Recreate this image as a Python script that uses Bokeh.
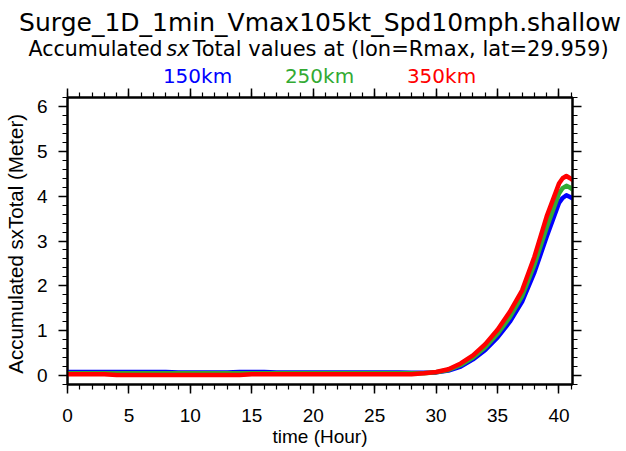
from bokeh.plotting import figure
from bokeh.layouts import column
from bokeh.models import (Range1d, LinearAxis, SingleIntervalTicker, ColumnDataSource,
                          CustomJSTickFormatter)
from bokeh.core.properties import value
from bokeh.embed import file_html
from bokeh.resources import INLINE

# ---------------- data ----------------
hours = [0, 1, 2, 3, 4, 5, 6, 7, 8, 9, 10, 11, 12, 13, 14, 15, 16, 17, 18, 19,
         20, 21, 22, 23, 24, 25, 26, 27, 28, 29, 30, 31, 32, 33, 34, 35, 36, 37,
         38, 39, 40, 40.3, 40.6, 40.9, 41.1]

s150km = [0.08, 0.08, 0.08, 0.08, 0.08, 0.08, 0.08, 0.08, 0.08, 0.065, 0.065,
          0.065, 0.065, 0.065, 0.08, 0.08, 0.08, 0.065, 0.065, 0.065, 0.065,
          0.065, 0.065, 0.065, 0.065, 0.065, 0.065, 0.065, 0.06, 0.06, 0.07,
          0.11, 0.20, 0.36, 0.57, 0.85, 1.20, 1.65, 2.30, 3.10, 3.85, 3.96,
          4.02, 3.98, 3.95]

s250km = [0.05, 0.05, 0.05, 0.05, 0.05, 0.05, 0.05, 0.05, 0.05, 0.05, 0.05,
          0.05, 0.05, 0.05, 0.05, 0.05, 0.05, 0.05, 0.05, 0.05, 0.05, 0.05,
          0.05, 0.05, 0.05, 0.05, 0.05, 0.05, 0.05, 0.05, 0.075, 0.125, 0.235,
          0.40, 0.63, 0.93, 1.30, 1.77, 2.47, 3.30, 4.06, 4.18, 4.23, 4.19, 4.15]

s350km = [0.03, 0.03, 0.03, 0.03, 0.01, 0.01, 0.01, 0.01, 0.01, 0.01, 0.01, 0.01,
          0.01, 0.01, 0.01, 0.03, 0.03, 0.03, 0.03, 0.03, 0.03, 0.03, 0.03, 0.03,
          0.03, 0.03, 0.03, 0.03, 0.03, 0.05, 0.08, 0.14, 0.27, 0.45, 0.70, 1.02,
          1.42, 1.90, 2.65, 3.55, 4.28, 4.40, 4.45, 4.40, 4.36]

series_names = ["150km", "250km", "350km"]
series_colors = ["#0000ff", "#33aa33", "#ff0000"]

title_text = "Surge_1D_1min_Vmax105kt_Spd10mph.shallow"
sub_a = "Accumulated"
sub_b = "sx"
sub_c = "Total values at (lon=Rmax, lat=29.959)"
xlabel = "time (Hour)"
ylabel = "Accumulated sxTotal  (Meter)"

W = 626
HEAD_H = 86
MAIN_H = 451 - HEAD_H

# ---------------- header (titles + colored legend words) ----------------
head = figure(width=W, height=HEAD_H, output_backend="svg", toolbar_location=None,
              x_range=Range1d(0, W), y_range=Range1d(HEAD_H, 0),
              x_axis_location=None, y_axis_location=None, min_border=0,
              frame_align=False)
head.grid.visible = False
head.outline_line_color = None
head.background_fill_color = "white"
head.border_fill_color = "white"

def htext(txt, x, y, size, color="black", align="left", style="normal"):
    head.text(x=[x], y=[y], text=[txt], text_font=value("DejaVu Sans"),
              text_font_size=value(size), text_color=color, text_align=align,
              text_baseline="alphabetic", text_font_style=style)

htext(title_text, 319.5, 22, "25px", align="center")
htext(sub_a, 28, 48, "20.5px")
htext(sub_b, 166, 48, "20.5px", style="italic")
htext(sub_c, 192, 48, "21px")
for name, col, cx in zip(series_names, series_colors, [197, 319, 441]):
    htext(name, cx, 75, "20px", color=col, align="center")

# ---------------- main plot ----------------
p = figure(width=W, height=MAIN_H, output_backend="svg", toolbar_location=None,
           x_range=Range1d(0, 41.1), y_range=Range1d(-0.2, 6.2),
           x_axis_location=None, y_axis_location=None,
           min_border_left=67, min_border_right=W - 572,
           min_border_top=97 - HEAD_H, min_border_bottom=451 - 384,
           frame_align=False)
p.grid.visible = False
p.outline_line_color = "black"
p.outline_line_width = 2
p.background_fill_color = "white"
p.border_fill_color = "white"

def style_axis(ax, show_labels):
    ax.axis_line_color = "black"
    ax.axis_line_width = 2
    ax.major_tick_out = 9
    ax.major_tick_in = 0
    ax.minor_tick_out = 5
    ax.minor_tick_in = 0
    ax.major_tick_line_width = 1.5
    ax.minor_tick_line_width = 1.2
    ax.major_tick_line_color = "black"
    ax.minor_tick_line_color = "black"
    ax.major_label_text_font = "Liberation Sans"
    ax.major_label_text_color = "black"
    ax.axis_label_text_font = "Liberation Sans"
    ax.axis_label_text_font_style = "normal"
    ax.axis_label_text_color = "black"
    if show_labels:
        ax.major_label_text_font_size = "19px"
    else:
        ax.formatter = CustomJSTickFormatter(code="return ''")
        ax.major_label_text_font_size = "0px"
        ax.major_label_standoff = 0

def xt():
    return SingleIntervalTicker(interval=5, num_minor_ticks=5)

def yt():
    return SingleIntervalTicker(interval=1, num_minor_ticks=5)

bx = LinearAxis(ticker=xt(), axis_label=xlabel)
style_axis(bx, True)
bx.major_label_standoff = 15
bx.axis_label_text_font_size = "19px"
bx.axis_label_standoff = 1
p.add_layout(bx, "below")

tx = LinearAxis(ticker=xt())
style_axis(tx, False)
p.add_layout(tx, "above")

ly = LinearAxis(ticker=yt(), axis_label=ylabel)
style_axis(ly, True)
ly.major_label_standoff = 11
ly.axis_label_text_font_size = "20.5px"
ly.axis_label_standoff = 7
p.add_layout(ly, "left")

ry = LinearAxis(ticker=yt())
style_axis(ry, False)
p.add_layout(ry, "right")

for vals, col in zip([s150km, s250km, s350km], series_colors):
    src = ColumnDataSource(dict(x=hours, y=vals))
    p.line("x", "y", source=src, line_color=col, line_width=4.5,
           line_join="round", line_cap="round")

layout = column(head, p, spacing=0)
open("out.html", "w").write(file_html(layout, INLINE))
